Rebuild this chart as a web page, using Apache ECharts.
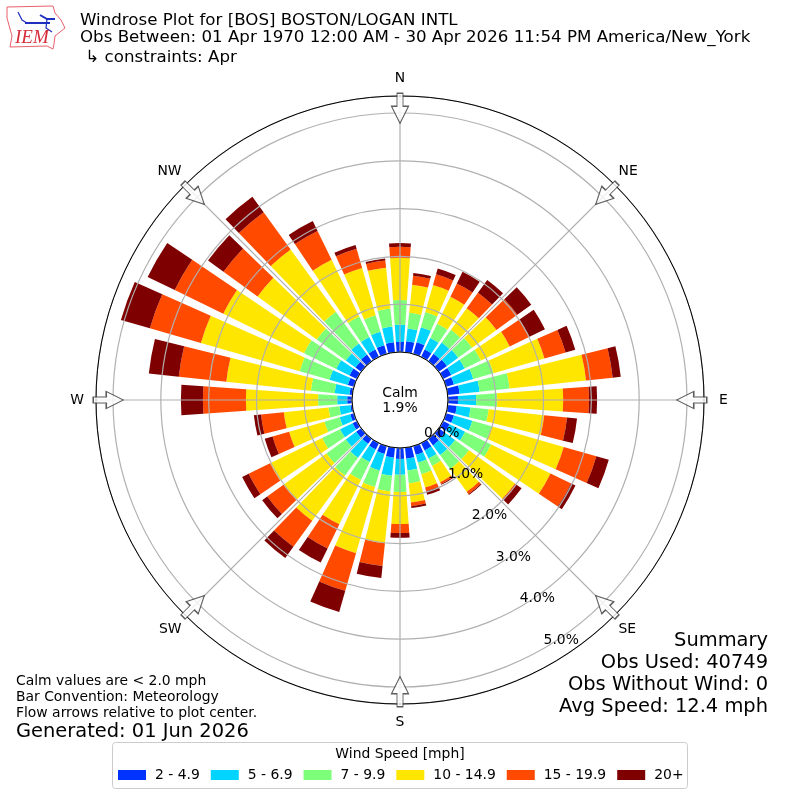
<!DOCTYPE html>
<html>
<head>
<meta charset="utf-8">
<style>html,body{margin:0;padding:0;background:#fff}#c{width:800px;height:800px}</style>
<script src="https://cdn.jsdelivr.net/npm/echarts@6/dist/echarts.min.js"></script>
</head>
<body>
<div id="c"></div>
<script>
const directions = [0,10,20,30,40,50,60,70,80,90,100,110,120,130,140,150,160,170,180,190,200,210,220,230,240,250,260,270,280,290,300,310,320,330,340,350];
const speedNames = ['2 - 4.9','5 - 6.9','7 - 9.9','10 - 14.9','15 - 19.9','20+'];
const speedColors = ['#0033ff','#00d4ff','#7dff7a','#ffe600','#ff4a00','#7f0000'];
const speed2  = [.21,.23,.25,.17,.19,.21,.19,.17,.25,.21,.19,.17,.15,.15,.17,.17,.19,.23,.23,.21,.17,.15,.13,.13,.10,.08,.04,.10,.06,.13,.17,.15,.17,.17,.19,.21];
const speed5  = [.36,.27,.33,.27,.29,.29,.31,.42,.42,.38,.29,.40,.36,.27,.25,.19,.17,.25,.33,.38,.36,.29,.36,.27,.29,.23,.23,.21,.31,.40,.31,.25,.29,.29,.29,.33];
const speed7  = [.52,.33,.33,.33,.33,.36,.38,.44,.63,.44,.38,.42,.61,.36,.36,.17,.25,.27,.36,.33,.36,.42,.46,.50,.42,.33,.23,.40,.50,.65,.75,.75,.82,.48,.36,.38];
const speed10 = [.88,.59,.59,.63,.56,.63,.67,1.11,1.61,1.38,1.17,1.57,1.38,1.19,.59,.38,.29,.40,.67,1.09,1.44,1.03,1.17,1.11,1.21,.77,.94,1.51,1.78,2.15,1.88,1.53,1.61,1.32,1.03,.86];
const speed15 = [.23,.19,.23,.31,.40,.54,.46,.46,.56,.54,.48,.71,.48,.04,.06,.04,.08,.08,.19,.48,.82,.56,.67,.42,.50,.36,.48,.90,1.00,1.11,1.13,.88,.96,.67,.42,.15];
const speed20 = [.08,.06,.13,.27,.33,.36,.36,.21,.17,.17,.21,.27,.10,.13,.02,.02,.08,.04,.10,.25,.46,.33,.29,.13,.15,.17,.15,.46,.63,.63,.63,.40,.40,.23,.08,.04];
const speedSeries = [speed2,speed5,speed7,speed10,speed15,speed20];
const compassAngles = [0,45,90,135,180,225,270,315];
const compassNames = {0:'N',45:'NE',90:'E',135:'SE',180:'S',225:'SW',270:'W',315:'NW'};
const rMax = 5.356, arrowR = 5.1;
const F = 'DejaVu Sans';
const arrowPath = 'path://M-3,0 L3,0 L3,13 L8.5,13 L0,30 L-8.5,13 L-3,13 Z';
const ink = '#000';

function txt(text,x,y,size,align){return {type:'text',x:x,y:y,z:50,style:{text:text,fontFamily:F,fontSize:size,fill:ink,align:align||'left',verticalAlign:'middle'}};}
function rl(p){return {fontFamily:F,fontSize:13.9,color:'#000',padding:p};}

const chart = echarts.init(document.getElementById('c'),null,{renderer:'canvas'});
const bars = speedSeries.map((arr,i)=>({
  type:'bar',name:speedNames[i],coordinateSystem:'polar',polarIndex:0,stack:'wind',
  barWidth:'80%',itemStyle:{color:speedColors[i]},z:2,silent:true,
  data:arr.map((v,j)=>[v,directions[j]])
}));
chart.setOption({
  animation:false,
  backgroundColor:'#fff',
  textStyle:{fontFamily:F},
  polar:[{center:[400,400],radius:[48,304]},{center:[400,400],radius:[48,304]}],
  angleAxis:[
    {polarIndex:0,type:'value',min:0,max:360,interval:45,startAngle:90,clockwise:true,z:5,
     axisLine:{show:true,lineStyle:{color:'#000',width:1}},axisTick:{show:false},
     axisLabel:{show:true,margin:5,align:'center',verticalAlign:'middle',fontFamily:F,fontSize:13.9,color:'#000',
       formatter:v=>compassNames[v]?'{'+compassNames[v]+'|'+compassNames[v]+'}':'',
       rich:{N:rl([0,0,6,0]),S:rl([6,0,0,0]),E:rl([0,0,0,10]),W:rl([0,7,0,0]),
             NE:rl([0,0,3,0]),NW:rl([0,0,3,0]),SE:rl([4,0,0,0]),SW:rl([4,0,0,0])}},
     splitLine:{show:true,lineStyle:{color:'#b0b0b0',width:1.2}}},
    {polarIndex:1,type:'value',min:0,max:360,startAngle:-60,clockwise:true,show:false}
  ],
  radiusAxis:[
    {polarIndex:0,type:'value',min:0,max:rMax,interval:1,z:5,
     axisLine:{show:false},axisTick:{show:false},axisLabel:{show:false},
     splitLine:{show:true,lineStyle:{color:'#b0b0b0',width:1.2}}},
    {polarIndex:1,type:'value',min:0,max:rMax,interval:1,z:12,
     axisLine:{show:false},axisTick:{show:false},splitLine:{show:false},
     axisLabel:{show:true,margin:17,padding:[5,0,0,6],fontFamily:F,fontSize:13.9,color:'#000',align:'center',verticalAlign:'middle',
       formatter:v=>Number.isInteger(v)?v.toFixed(1)+'%':''}}
  ],
  legend:{left:118,top:768,width:576,padding:0,itemGap:11,itemWidth:28,itemHeight:10,icon:'rect',selectedMode:false,
    data:speedNames,textStyle:{fontFamily:F,fontSize:13.9,color:'#000',padding:[0,0,0,4]}},
  series:bars.concat([{
    type:'scatter',coordinateSystem:'polar',polarIndex:0,clip:false,silent:true,z:9,
    symbol:arrowPath,symbolSize:[17,30],symbolRotate:v=>-v[1],
    itemStyle:{color:'#fff',borderColor:'#333',borderWidth:1.2},
    data:compassAngles.map(a=>[arrowR,a])
  }]),
  graphic:[
    txt('Windrose Plot for [BOS] BOSTON/LOGAN INTL',80,21,16.67),
    txt('Obs Between: 01 Apr 1970 12:00 AM - 30 Apr 2026 11:54 PM America/New_York',80,38,16.67),
    txt(' \u21b3 constraints: Apr',80,58,16.67),
    txt('Calm',400,393,13.9,'center'),txt('1.9%',400,408,13.9,'center'),
    txt('Summary',768,641,19.44,'right'),txt('Obs Used: 40749',768,663,19.44,'right'),
    txt('Obs Without Wind: 0',768,685,19.44,'right'),txt('Avg Speed: 12.4 mph',768,707,19.44,'right'),
    txt('Calm values are < 2.0 mph',16,681,13.9),txt('Bar Convention: Meteorology',16,697,13.9),
    txt('Flow arrows relative to plot center.',16,713,13.9),txt('Generated: 01 Jun 2026',16,732,19.44),
    {type:'rect',z:1,shape:{x:112.5,y:742.5,width:575,height:46,r:3},style:{fill:'#fff',stroke:'#ccc',lineWidth:1}},
    txt('Wind Speed [mph]',400,754,13.9,'center'),
    {type:'polygon',z:50,shape:{points:[[7,7],[53,6],[55,13],[61,20],[65,28],[60,32],[55,36],[54,44],[53,49],[47,46],[10,47],[12,36],[7,18]]},style:{fill:'none',stroke:'#e8606a',lineWidth:1}},
    {type:'polyline',z:50,shape:{points:[[25,23],[50,23]]},style:{stroke:'#1f2fc0',lineWidth:2}},
    {type:'polyline',z:50,shape:{points:[[18,12],[22,20],[27,23]]},style:{stroke:'#1f2fc0',lineWidth:1.2}},
    {type:'polyline',z:50,shape:{points:[[40,15],[47,19],[55,19]]},style:{stroke:'#1f2fc0',lineWidth:2}},
    {type:'polyline',z:50,shape:{points:[[47,19],[46,28],[52,32]]},style:{stroke:'#1f2fc0',lineWidth:1.2}},
    {type:'text',z:50,x:15,y:38,style:{text:'IEM',fontFamily:'Liberation Serif',fontStyle:'italic',fontSize:19,fill:'#d62d3a',verticalAlign:'middle'}}
  ]
});
</script>
</body>
</html>
